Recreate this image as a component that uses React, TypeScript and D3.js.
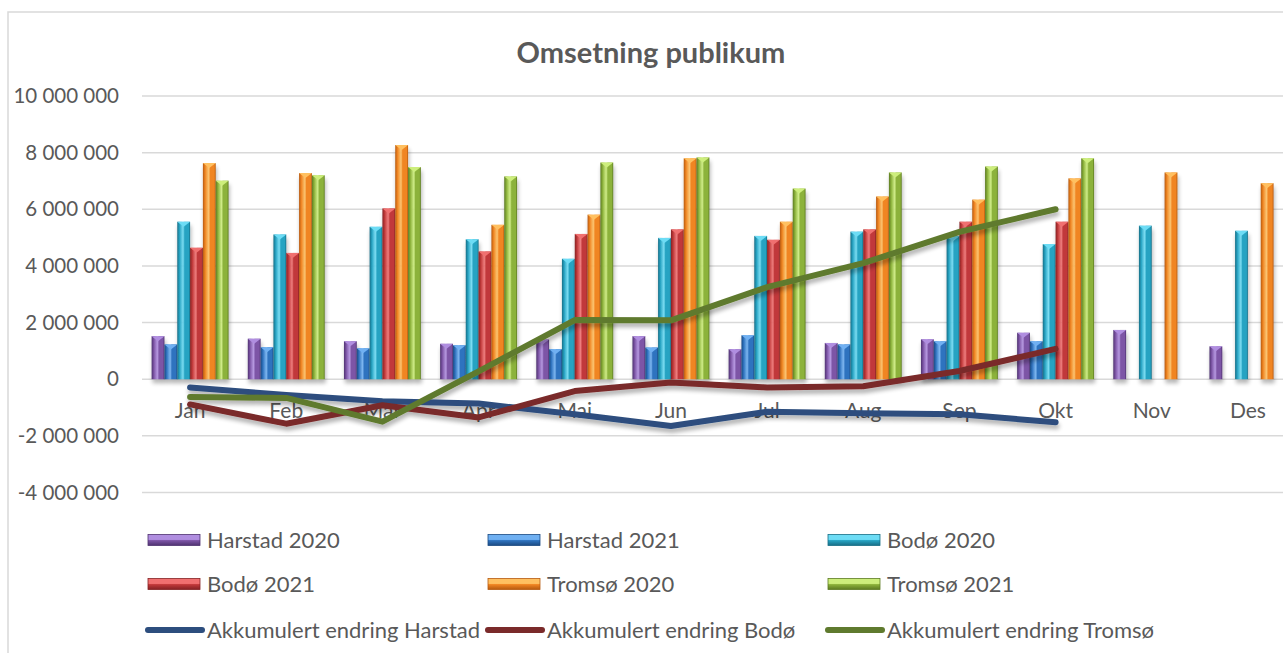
import * as d3 from 'd3';

const months = ['Jan', 'Feb', 'Mar', 'Apr', 'Mai', 'Jun', 'Jul', 'Aug', 'Sep', 'Okt', 'Nov', 'Des'];
const yTicks = [10000000, 8000000, 6000000, 4000000, 2000000, 0, -2000000, -4000000];

const harstad2020 = [1520000, 1430000, 1340000, 1250000, 1400000, 1520000, 1060000, 1280000, 1410000, 1640000, 1740000, 1160000];
const harstad2021 = [1230000, 1130000, 1090000, 1200000, 1060000, 1120000, 1550000, 1230000, 1340000, 1340000, null, null];
const bodo2020 = [5560000, 5110000, 5380000, 4940000, 4250000, 4990000, 5060000, 5210000, 5050000, 4770000, 5420000, 5240000];
const bodo2021 = [4640000, 4460000, 6030000, 4510000, 5130000, 5290000, 4920000, 5290000, 5560000, 5560000, null, null];
const tromso2020 = [7630000, 7280000, 8270000, 5450000, 5810000, 7800000, 5560000, 6450000, 6340000, 7090000, 7300000, 6920000];
const tromso2021 = [7010000, 7200000, 7490000, 7160000, 7650000, 7830000, 6730000, 7300000, 7510000, 7800000, null, null];

const akkHarstad = [-290000, -560000, -780000, -860000, -1240000, -1650000, -1150000, -1200000, -1240000, -1520000];
const akkBodo = [-890000, -1570000, -920000, -1350000, -420000, -120000, -290000, -250000, 290000, 1070000];
const akkTromso = [-630000, -660000, -1500000, 280000, 2090000, 2080000, 3250000, 4100000, 5200000, 6000000];

const barSeries = [
  { name: 'Harstad 2020', values: harstad2020, color: '#7d55a6', light: '#b08ee0', dark: '#4f3270' },
  { name: 'Harstad 2021', values: harstad2021, color: '#2f73bf', light: '#6fb0f2', dark: '#1b4a82' },
  { name: 'Bodø 2020', values: bodo2020, color: '#27a3c2', light: '#6ddcf5', dark: '#176e86' },
  { name: 'Bodø 2021', values: bodo2021, color: '#c1393a', light: '#f07070', dark: '#842224' },
  { name: 'Tromsø 2020', values: tromso2020, color: '#f08522', light: '#ffc061', dark: '#b65a10' },
  { name: 'Tromsø 2021', values: tromso2021, color: '#8cb23b', light: '#cdee7c', dark: '#5c7a22' },
];

const lineSeries = [
  { name: 'Akkumulert endring Harstad', values: akkHarstad, color: '#2d4e7e' },
  { name: 'Akkumulert endring Bodø', values: akkBodo, color: '#7a2a2a' },
  { name: 'Akkumulert endring Tromsø', values: akkTromso, color: '#5f7a2e' },
];

const W = 1283;
const H = 653;
const font = 'Lato, "Noto Sans", sans-serif';
const textColor = '#595959';

export default function App() {
  const plotLeft = 142;
  const plotRight = 1296;

  const x = d3.scaleBand<string>().domain(months).range([plotLeft, plotRight]).paddingInner(0.2).paddingOuter(0.1);
  const x1 = d3.scaleBand<string>().domain(barSeries.map(s => s.name)).range([0, x.bandwidth()]);
  const y = d3.scaleLinear().domain([-4000000, 10000000]).range([492.5, 96]);

  const fmt = (v: number) => d3.format(',')(v).replace(/,/g, ' ').replace('−', '-');

  const line = d3.line<number>()
    .x((_, i) => (x(months[i]) ?? 0) + x.bandwidth() / 2)
    .y(d => y(d));

  const legendCols = [148, 488, 828];
  const legendRows = [540, 584, 630];

  return (
    <svg width={W} height={H} style={{ position: 'absolute', left: 0, top: 0, background: '#fff' }}>
      <defs>
        {barSeries.map((s, i) => (
          <linearGradient key={i} id={`bar-${i}`} x1="0" x2="1" y1="0" y2="0">
            <stop offset="0%" stopColor={s.dark} />
            <stop offset="18%" stopColor={s.color} />
            <stop offset="45%" stopColor={s.light} stopOpacity={0.85} />
            <stop offset="58%" stopColor={s.color} />
            <stop offset="88%" stopColor={s.color} />
            <stop offset="100%" stopColor={s.dark} />
          </linearGradient>
        ))}
        {barSeries.map((s, i) => (
          <linearGradient key={i} id={`leg-${i}`} x1="0" x2="0" y1="0" y2="1">
            <stop offset="0%" stopColor={s.light} />
            <stop offset="45%" stopColor={s.light} />
            <stop offset="55%" stopColor={s.color} />
            <stop offset="100%" stopColor={s.dark} />
          </linearGradient>
        ))}
        <filter id="shadow" x="-20%" y="-20%" width="140%" height="160%">
          <feGaussianBlur in="SourceAlpha" stdDeviation="2" />
          <feOffset dx="1" dy="4" result="b" />
          <feComponentTransfer><feFuncA type="linear" slope="0.3" /></feComponentTransfer>
          <feMerge>
            <feMergeNode />
            <feMergeNode in="SourceGraphic" />
          </feMerge>
        </filter>
      </defs>

      {/* chart frame */}
      <rect x={8} y={12} width={W + 20} height={H + 20} fill="#fff" stroke="#d9d9d9" strokeWidth={1.5} />

      <text x={651} y={63} textAnchor="middle" fontFamily={font} fontWeight={700} fontSize={29} fill={textColor}>
        Omsetning publikum
      </text>

      {/* gridlines + y axis labels */}
      {yTicks.map(t => (
        <g key={t}>
          <line x1={plotLeft} x2={W} y1={y(t)} y2={y(t)} stroke="#d9d9d9" strokeWidth={1.5} />
          <text x={119} y={y(t)} dy="0.35em" textAnchor="end" fontFamily={font} fontSize={20.5} fill={textColor}>
            {fmt(t)}
          </text>
        </g>
      ))}

      {/* x labels */}
      {months.map(m => (
        <text key={m} x={(x(m) ?? 0) + x.bandwidth() / 2} y={418} textAnchor="middle" fontFamily={font} fontSize={21} fill={textColor}>
          {m}
        </text>
      ))}

      {/* bars */}
      <g filter="url(#shadow)">
        {barSeries.map((s, si) =>
          s.values.map((v, mi) => {
            if (v == null) return null;
            const bx = (x(months[mi]) ?? 0) + (x1(s.name) ?? 0);
            const bw = x1.bandwidth();
            const top = y(v);
            const h = y(0) - top;
            return (
              <g key={`${si}-${mi}`}>
                <rect x={bx} y={top} width={bw} height={h} fill={`url(#bar-${si})`} />
                <path d={`M${bx},${top}L${bx + bw},${top}L${bx + bw / 2},${top + 5}Z`} fill={s.light} />
              </g>
            );
          })
        )}
      </g>

      {/* lines */}
      <g filter="url(#shadow)">
        {lineSeries.map(s => (
          <path key={s.name} d={line(s.values) ?? ''} fill="none" stroke={s.color} strokeWidth={6} strokeLinecap="round" strokeLinejoin="round" />
        ))}
      </g>

      {/* legend */}
      {barSeries.map((s, i) => {
        const lx = legendCols[i % 3];
        const ly = legendRows[Math.floor(i / 3)];
        return (
          <g key={s.name}>
            <rect x={lx} y={ly - 5.5} width={52} height={11} fill={`url(#leg-${i})`} stroke={s.dark} strokeWidth={0.8} />
            <text x={lx + 59} y={ly} dy="0.35em" fontFamily={font} fontSize={22} fill={textColor}>{s.name}</text>
          </g>
        );
      })}
      {lineSeries.map((s, i) => {
        const lx = legendCols[i];
        const ly = legendRows[2];
        return (
          <g key={s.name}>
            <line x1={lx} x2={lx + 54} y1={ly} y2={ly} stroke={s.color} strokeWidth={6} strokeLinecap="round" />
            <text x={lx + 59} y={ly} dy="0.35em" fontFamily={font} fontSize={22} fill={textColor}>{s.name}</text>
          </g>
        );
      })}
    </svg>
  );
}
